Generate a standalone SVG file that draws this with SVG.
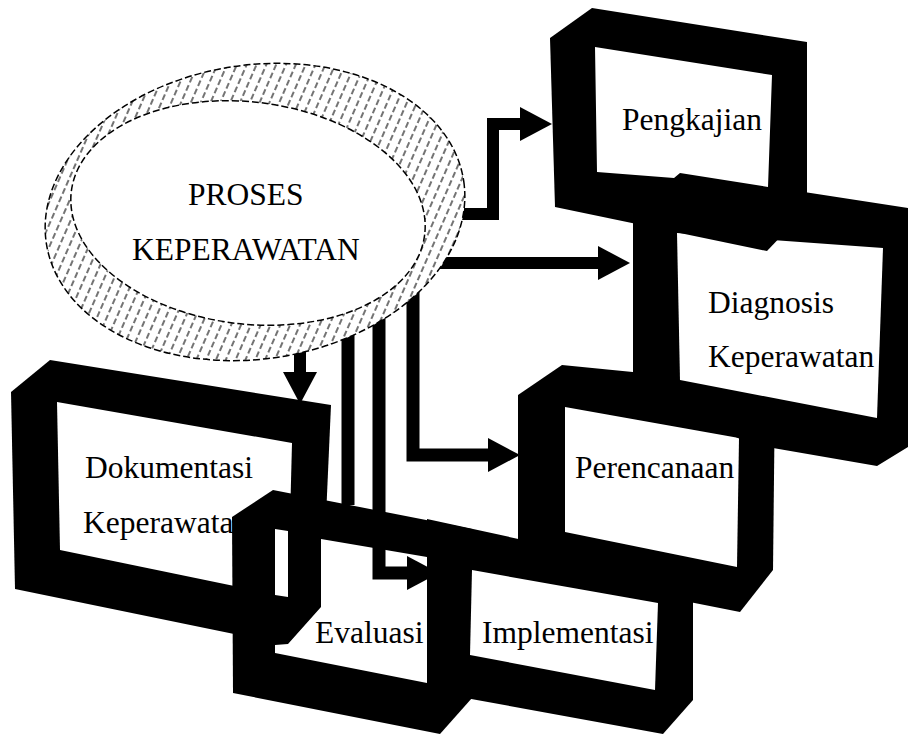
<svg xmlns="http://www.w3.org/2000/svg" width="909" height="736" viewBox="0 0 909 736">
<style>
.frame{fill:#000;stroke:none}
.hole{fill:#fff;stroke:none}
.t{font-family:"Liberation Serif","Times New Roman",serif;font-size:31.5px;fill:#000}
.conn{fill:none;stroke:#000;stroke-width:12;stroke-linejoin:miter;stroke-linecap:butt}
.conn.wide{stroke-width:13}
.ring{stroke:#000;stroke-width:1.5;stroke-dasharray:7 3}
</style>
<defs>
<marker id="ah" markerUnits="userSpaceOnUse" markerWidth="34" markerHeight="36" refX="4" refY="17" orient="auto">
<path d="M0,0 L32,17 L0,34 Z" fill="#000"/>
</marker>
<pattern id="hatch" patternUnits="userSpaceOnUse" width="9" height="9" patternTransform="rotate(32)">
<rect width="9" height="9" fill="#fff"/>
<path d="M1,0 V9" stroke="#000" stroke-width="1.1" stroke-dasharray="6 3"/>
</pattern>
</defs>
<rect width="909" height="736" fill="#fff"/>

<g id="dokumentasi">
<polygon class="frame" points="11,392 50,360 331,405 322,607 287,645 15,589"/>
<polygon class="hole" points="57,402 292,443 288,597 60,550"/>
<text class="t" x="85" y="478">Dokumentasi</text>
<text class="t" x="83" y="533">Keperawatan</text>
</g>

<g id="evaluasi">
<polygon class="frame" points="232,517 273,490 472,529 472,698 440,734 233,693"/>
<polygon class="hole" points="275,529 288,531 288,597 275,595"/>
<polygon class="hole" points="321,539 427,557 427,683 275,653 275,645 288,644 321,607"/>
<text class="t" x="315" y="643">Evaluasi</text>
</g>

<g id="perencanaan">
<polygon class="frame" points="518,395 562,365 775,386 773,570 740,612 518,568"/>
<polygon class="hole" points="565,407 739,438 737,567 565,532"/>
<text class="t" x="575" y="478">Perencanaan</text>
</g>

<g id="implementasi">
<polygon class="frame" points="427,519 693,577 693,700 663,734 427,691"/>
<polygon class="hole" points="472,570 658,603 655,690 470,655"/>
<text class="t" x="482" y="643">Implementasi</text>
</g>

<g id="diagnosis">
<polygon class="frame" points="633,215 680,173 908,208 908,447 877,466 773,448 740,439 680,410 633,400"/>
<polygon class="hole" points="677,233 883,248 877,418 680,380"/>
<text class="t" x="708" y="313">Diagnosis</text>
<text class="t" x="708" y="367">Keperawatan</text>
</g>

<g id="pengkajian">
<polygon class="frame" points="550,38 592,8 807,42 807,209 767,251 555,207"/>
<polygon class="hole" points="595,47 772,75 768,187 680,173 674,178 597,172"/>
<text class="t" x="622" y="130">Pengkajian</text>
</g>

<g id="connectors">
<path class="conn" d="M440,214 H493 V124 H524" marker-end="url(#ah)"/>
<path class="conn" d="M420,263 H602" marker-end="url(#ah)"/>
<path class="conn wide" d="M413,280 V455 H492" marker-end="url(#ah)"/>
<path class="conn" d="M300,345 V376" marker-end="url(#ah)"/>
<path class="conn wide" d="M348,320 V505"/>
<path class="conn wide" d="M379,300 V573 H411" marker-end="url(#ah)"/>
</g>

<g id="proses-keperawatan">
<ellipse cx="255" cy="212" rx="211" ry="147" transform="rotate(-8.4 255 212)" fill="url(#hatch)" class="ring"/>
<ellipse cx="248" cy="213" rx="178" ry="111" transform="rotate(7 248 213)" fill="#fff" class="ring"/>
<text class="t" x="188" y="205">PROSES</text>
<text class="t" x="132" y="260">KEPERAWATAN</text>
</g>
</svg>
